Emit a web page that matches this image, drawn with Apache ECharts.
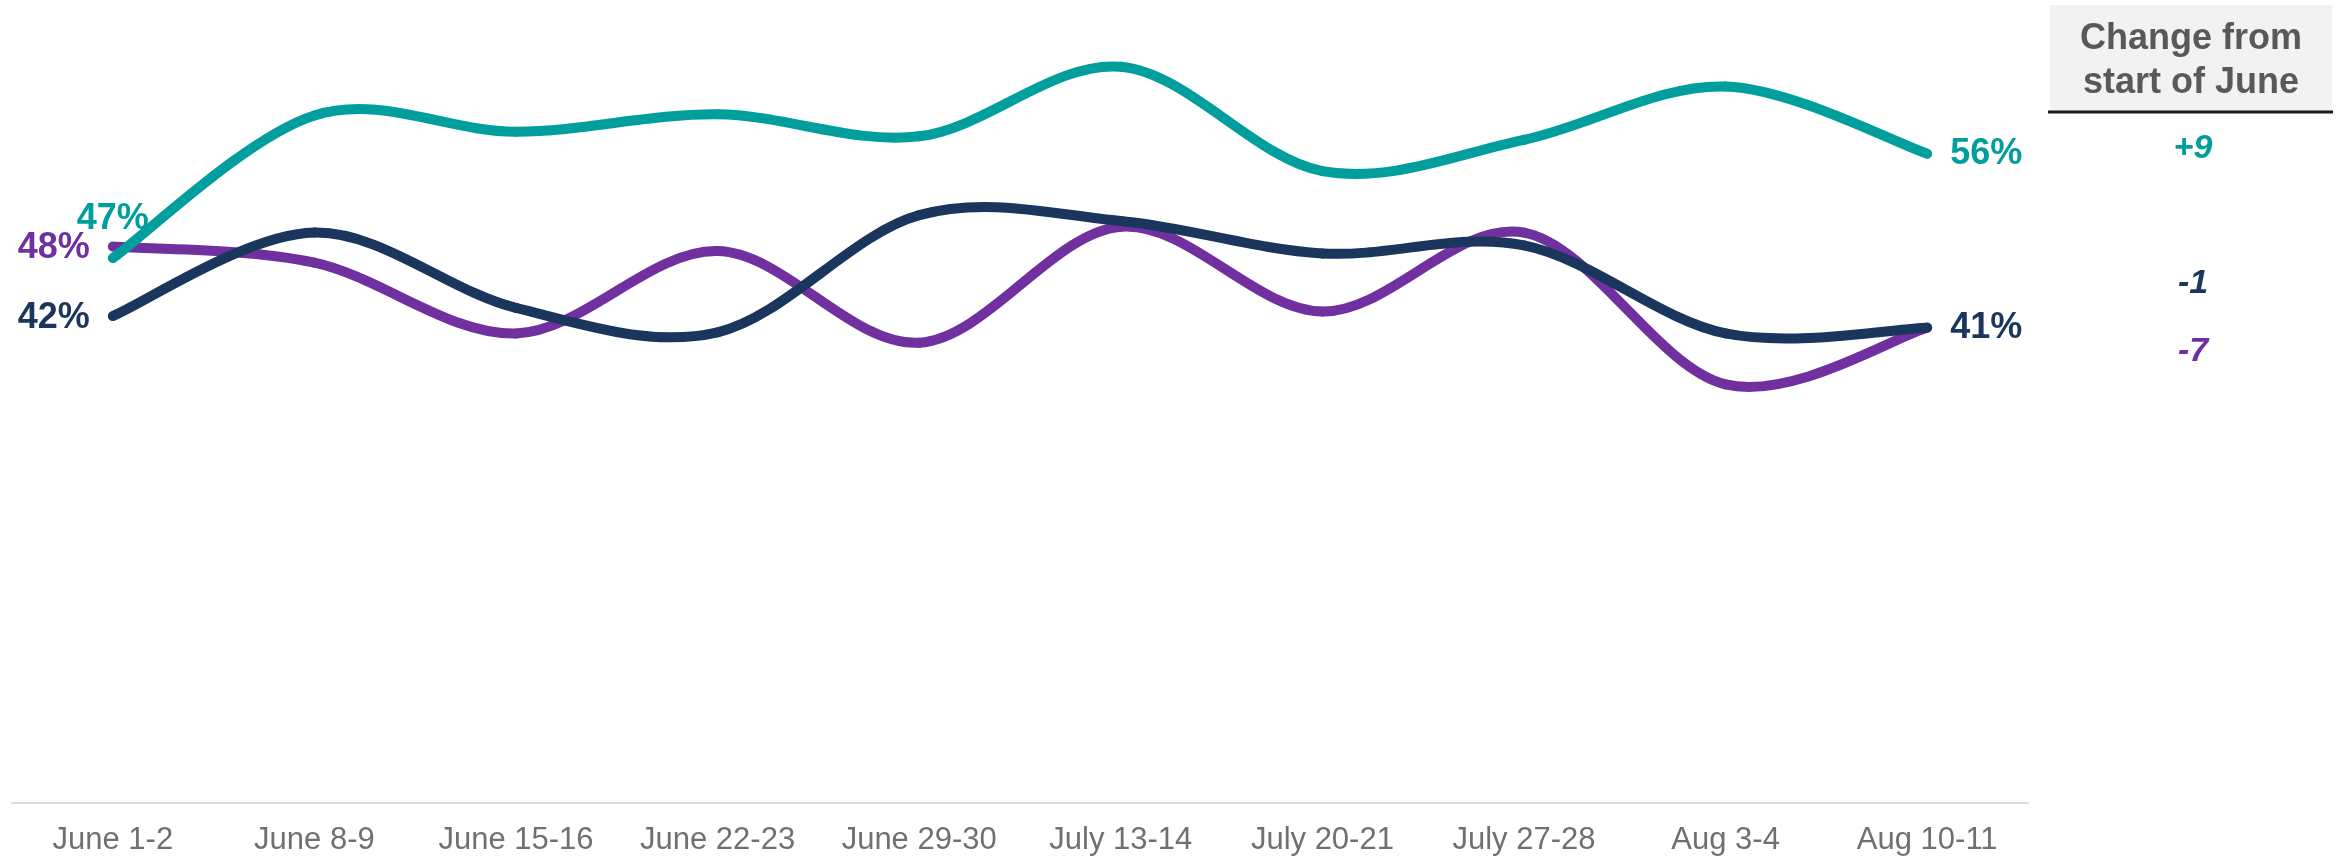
<!DOCTYPE html>
<html>
<head>
<meta charset="utf-8">
<script src="https://cdn.jsdelivr.net/npm/echarts@6/dist/echarts.min.js"></script>
<style>
html,body{margin:0;padding:0;background:#fff;}
#chart{width:2339px;height:859px;}
</style>
</head>
<body>
<div id="chart"></div>
<script>
const categories = ['June 1-2','June 8-9','June 15-16','June 22-23','June 29-30','July 13-14','July 20-21','July 27-28','Aug 3-4','Aug 10-11'];
const tealValues   = [47, 59.3, 57.9, 59.4, 57.5, 63.5, 54.5, 57.2, 61.8, 56];
const navyValues   = [42, 49.2, 42.7, 40.6, 50.7, 50.2, 47.4, 48.1, 40.5, 41];
const purpleValues = [48, 46.6, 40.5, 47.6, 39.7, 49.7, 42.4, 49.2, 36.1, 41];
const headerLines = ['Change from', 'start of June'];

const TEAL = '#009E9C', NAVY = '#1B365D', PURPLE = '#7030A0';
const FONT = '"Liberation Sans", Arial, sans-serif';

function pct(v){ return Math.round(v) + '%'; }
function change(arr){
  const d = Math.round(arr[arr.length-1]) - Math.round(arr[0]);
  return (d > 0 ? '+' : '') + d;
}

// Smoothed (Catmull-Rom style) line drawn through the library's coordinate system
function smoothSeries(name, values, color, startLabel, endLabel){
  const n = values.length;
  return {
    name: name, type: 'custom', coordinateSystem: 'cartesian2d',
    data: values.map((v, i) => [i, v]),
    encode: { x: 0, y: 1 },
    animation: false, silent: true,
    renderItem: function(params, api){
      const i = params.dataIndex;
      const pt = k => api.coord([Math.max(0, Math.min(n - 1, k)), values[Math.max(0, Math.min(n - 1, k))]]);
      const children = [];
      if (i < n - 1) {
        const p0 = pt(i - 1), p1 = pt(i), p2 = pt(i + 1), p3 = pt(i + 2);
        children.push({
          type: 'bezierCurve',
          shape: {
            x1: p1[0], y1: p1[1], x2: p2[0], y2: p2[1],
            cpx1: p1[0] + (p2[0] - p0[0]) / 6, cpy1: p1[1] + (p2[1] - p0[1]) / 6,
            cpx2: p2[0] - (p3[0] - p1[0]) / 6, cpy2: p2[1] - (p3[1] - p1[1]) / 6
          },
          style: { stroke: color, lineWidth: 10, lineCap: 'round', fill: null }
        });
      }
      const here = pt(i);
      let lab = null;
      if (i === 0) lab = startLabel;
      if (i === n - 1) lab = endLabel;
      if (lab) {
        let x = here[0], y = here[1], align = 'center';
        if (lab === 'left') { x -= 23; align = 'right'; y += 2; }
        else if (lab === 'right') { x += 23; align = 'left'; }
        else if (lab === 'top') { y -= 39; }
        children.push({
          type: 'text', x: x, y: y, z2: 10,
          style: { text: pct(values[i]), align: align, verticalAlign: 'middle', fill: color, font: 'bold 36px ' + FONT }
        });
      }
      return { type: 'group', children: children };
    }
  };
}

const chart = echarts.init(document.getElementById('chart'), null, { renderer: 'canvas' });
chart.setOption({
  animation: false,
  grid: { left: 12, width: 2016, top: 3, bottom: 56, containLabel: false },
  xAxis: {
    type: 'category', data: categories, boundaryGap: true,
    axisLine: { show: true, lineStyle: { color: '#D9D9D9', width: 2 } },
    axisTick: { show: false },
    axisLabel: { color: '#707070', fontSize: 31, fontFamily: FONT, margin: 22, interval: 0 },
    splitLine: { show: false }
  },
  yAxis: {
    type: 'value', min: 0, max: 69, show: false, splitLine: { show: false }
  },
  series: [
    smoothSeries('Purple', purpleValues, PURPLE, 'left', null),
    smoothSeries('Navy', navyValues, NAVY, 'left', 'right'),
    smoothSeries('Teal', tealValues, TEAL, 'top', 'right')
  ],
  graphic: [
    { type: 'rect', shape: { x: 2050, y: 5, width: 282, height: 107 }, style: { fill: '#F2F2F2' }, silent: true },
    { type: 'line', shape: { x1: 2048, y1: 112, x2: 2333, y2: 112 }, style: { stroke: '#1A1A1A', lineWidth: 3 }, silent: true },
    { type: 'text', x: 2191, y: 61, style: { text: headerLines.join('\n'), align: 'center', verticalAlign: 'middle', fill: '#595959', font: 'bold 36px ' + FONT, lineHeight: 44 }, silent: true },
    { type: 'text', x: 2193, y: 149, style: { text: change(tealValues), align: 'center', verticalAlign: 'middle', fill: TEAL, font: 'italic bold 34px ' + FONT }, silent: true },
    { type: 'text', x: 2193, y: 284, style: { text: change(navyValues), align: 'center', verticalAlign: 'middle', fill: NAVY, font: 'italic bold 34px ' + FONT }, silent: true },
    { type: 'text', x: 2193, y: 352, style: { text: change(purpleValues), align: 'center', verticalAlign: 'middle', fill: PURPLE, font: 'italic bold 34px ' + FONT }, silent: true }
  ]
});
</script>
</body>
</html>
